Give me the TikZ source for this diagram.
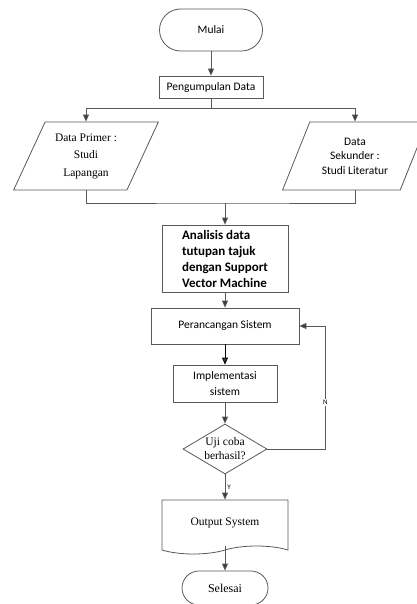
\documentclass[tikz,border=0pt]{standalone}
\usepackage{fontspec}
\usepackage{tikz}
\usetikzlibrary{shapes.geometric, shapes.symbols, arrows.meta, positioning}
\newfontfamily\sansFont{Carlito}
\newfontfamily\serifFont{Liberation Serif}
\definecolor{lineGray}{HTML}{595959}
\definecolor{tipGray}{HTML}{3F3A38}

\begin{document}
\begin{tikzpicture}[node distance=2cm]
\tikzstyle{startStop} = [rectangle, rounded corners=17pt, text centered, draw=lineGray, line width=0.8pt]
\tikzstyle{process} = [rectangle, text centered, draw=lineGray, line width=0.8pt, font=\sansFont\fontsize{11.5}{16}\selectfont]
\tikzstyle{dataIO} = [trapezium, trapezium left angle=63, trapezium right angle=117, trapezium stretches=true, minimum width=145pt, minimum height=68pt, align=center, draw=lineGray, line width=0.8pt]
\tikzstyle{decision} = [diamond, aspect=1.7, minimum width=84pt, minimum height=50pt, inner sep=0pt, align=center, draw=lineGray, line width=0.8pt, font=\serifFont\fontsize{11.5}{14}\selectfont]
\tikzstyle{document} = [tape, tape bend top=none, tape bend bottom=in and out, tape bend height=8pt, minimum width=126pt, minimum height=54pt, draw=lineGray, line width=0.8pt, font=\serifFont\fontsize{11.5}{14}\selectfont]
\tikzstyle{arrow} = [line width=0.8pt, draw=lineGray, -{Triangle[width=6pt, length=7pt, fill=tipGray]}]
\tikzstyle{line} = [line width=0.8pt, draw=lineGray]

\useasboundingbox (0,0) rectangle (416pt,-604pt);

\node (start) [startStop, rounded corners=21pt, minimum width=103pt, minimum height=42pt, font=\sansFont\fontsize{11.5}{14}\selectfont] at (211pt,-30pt) {Mulai};
\node (collect) [process, below of=start, node distance=57pt, minimum width=104pt, minimum height=22pt] {Pengumpulan Data};
\node (split) [coordinate, below of=collect, node distance=21pt] {};
\node (primer) [dataIO, below of=collect, node distance=69pt, xshift=-125pt, font=\serifFont\fontsize{11.5}{17.5}\selectfont] {Data Primer :\\Studi\\Lapangan};
\node (sekunder) [dataIO, below of=collect, node distance=69pt, xshift=144pt, font=\sansFont\fontsize{11.5}{14.5}\selectfont] {Data\\Sekunder :\\Studi Literatur};
\node (merge) [coordinate, below of=collect, node distance=116pt, xshift=14pt] {};
\node (analysis) [process, below of=collect, node distance=171.5pt, xshift=14pt, minimum width=126pt, minimum height=67pt, align=left, font=\sansFont\bfseries\fontsize{13}{16}\selectfont] {Analisis data\\tutupan tajuk\\dengan Support\\Vector Machine};
\node (design) [process, below of=analysis, node distance=67.5pt, minimum width=148pt, minimum height=36pt] {Perancangan Sistem};
\node (impl) [process, below of=design, node distance=57.5pt, minimum width=104pt, minimum height=37pt, align=center] {Implementasi\\sistem};
\node (test) [decision, below of=impl, node distance=65.5pt] {Uji coba\\berhasil?};
\node (output) [document, below of=test, node distance=74pt] {Output System};
\node (stop) [startStop, below of=output, node distance=65pt, minimum width=86pt, minimum height=34pt, font=\serifFont\fontsize{12}{14}\selectfont] {Selesai};

\draw[arrow] (start) -- (collect);
\draw[line] (collect) -- (split);
\draw[arrow] (split) -| (primer.north);
\draw[arrow] (split) -| (sekunder.north);
\draw[line] (primer.south) |- (merge) -| (sekunder.south);
\draw[arrow] (merge) -- (analysis);
\draw[arrow] (analysis) -- (design);
\draw[arrow, draw=black] (design) -- (impl);
\draw[arrow] (impl) -- (test);
\draw[arrow] (test.east) -- ++(58pt,0) |- node[pos=0.19, fill=white, inner sep=1pt, font=\sansFont\fontsize{7}{8}\selectfont] {N} (design.east);
\draw[arrow] (test) -- node[right, inner sep=2pt, font=\sansFont\fontsize{7}{8}\selectfont] {Y} (output);
\draw[arrow] (output.south) -- (stop);

\end{tikzpicture}
\end{document}
